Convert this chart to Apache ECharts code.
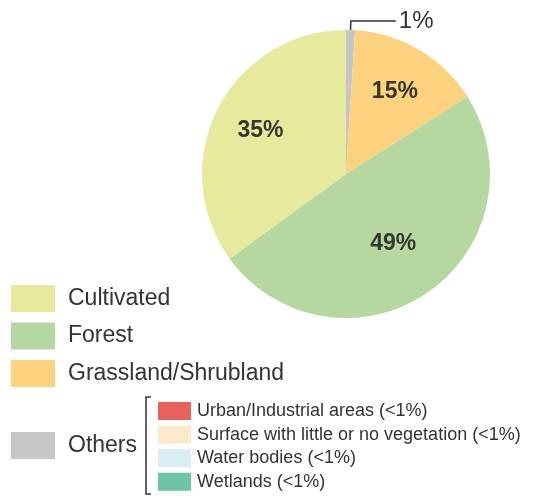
<!DOCTYPE html>
<html>
<head>
<meta charset="utf-8">
<script src="https://cdn.jsdelivr.net/npm/echarts@6/dist/echarts.min.js"></script>
<style>
html,body{margin:0;padding:0;background:#fff;}
#chart{width:540px;height:496px;}
</style>
</head>
<body>
<div id="chart"></div>
<script>
// ---- data ----
var categories = ['Others', 'Grassland/Shrubland', 'Forest', 'Cultivated'];
var values = [1, 15, 49, 35];
var colors = ['#c6c6c6', '#fdd27e', '#b4d89f', '#e7e99d'];
var legendMain = ['Cultivated', 'Forest', 'Grassland/Shrubland'];
var legendOthers = ['Others'];
var otherNames = ['Urban/Industrial areas (<1%)', 'Surface with little or no vegetation (<1%)', 'Water bodies (<1%)', 'Wetlands (<1%)'];
var otherColors = ['#e8625c', '#fde9c9', '#d9edf5', '#6ec5a6'];

var FONT = '"Liberation Sans", Arial, sans-serif';
var chart = echarts.init(document.getElementById('chart'), null, {renderer: 'canvas'});

var pieData = categories.map(function (c, i) {
  var item = {name: c, value: values[i], itemStyle: {color: colors[i]}};
  if (i === 0) {
    item.label = {show: true};
    item.labelLine = {show: true};
  }
  return item;
});
function labelData(showNames) {
  return categories.map(function (c, i) {
    return {name: c, value: values[i], label: {show: showNames.indexOf(c) >= 0}};
  });
}

// Sub-legend (graphic)
var graphics = [{
  type: 'polyline',
  shape: {points: [[151, 397], [146, 397], [146, 494], [151, 494]]},
  style: {stroke: '#333', lineWidth: 1.5, fill: null}
}];
otherNames.forEach(function (n, i) {
  var y = 402 + i * 23.6;
  graphics.push({type: 'rect', shape: {x: 158, y: y, width: 33, height: 18}, style: {fill: otherColors[i]}});
  graphics.push({type: 'text', x: 197, y: y + 9, style: {text: n, font: '18px ' + FONT, fill: '#333', textVerticalAlign: 'middle'}});
});

var labelStyle = {
  position: 'inside',
  formatter: '{c}%',
  fontSize: 23, fontWeight: 'bold', fontFamily: FONT, color: '#35362c'
};

chart.setOption({
  animation: false,
  legend: [{
    data: legendMain,
    orient: 'vertical',
    left: 11, top: 285,
    padding: 0,
    itemWidth: 44, itemHeight: 27, itemGap: 10.5,
    icon: 'rect',
    selectedMode: false,
    textStyle: {fontSize: 23, fontFamily: FONT, color: '#333', padding: [0, 0, 0, 8]}
  }, {
    data: legendOthers,
    orient: 'vertical',
    left: 11, top: 432,
    padding: 0,
    itemWidth: 44, itemHeight: 27,
    icon: 'rect',
    selectedMode: false,
    textStyle: {fontSize: 23, fontFamily: FONT, color: '#333', padding: [0, 0, 0, 8]}
  }],
  graphic: graphics,
  series: [{
    type: 'pie',
    center: [346, 174],
    radius: [0, 144],
    startAngle: 90,
    clockwise: true,
    silent: true,
    avoidLabelOverlap: false,
    data: pieData,
    label: {
      show: false,
      position: 'outside',
      formatter: '{c}%',
      fontSize: 24, fontFamily: FONT, color: '#333',
      distanceToLabelLine: 3
    },
    labelLine: {show: false, length: 9, length2: 45, lineStyle: {color: '#333', width: 1.5}}
  }, {
    type: 'pie',
    center: [346, 174],
    radius: [0, 186],
    startAngle: 90,
    clockwise: true,
    silent: true,
    avoidLabelOverlap: false,
    itemStyle: {color: 'rgba(0,0,0,0)'},
    data: labelData(['Cultivated', 'Grassland/Shrubland']),
    label: labelStyle,
    labelLine: {show: false}
  }, {
    type: 'pie',
    center: [346, 174],
    radius: [0, 162],
    startAngle: 90,
    clockwise: true,
    silent: true,
    avoidLabelOverlap: false,
    itemStyle: {color: 'rgba(0,0,0,0)'},
    data: labelData(['Forest']),
    label: labelStyle,
    labelLine: {show: false}
  }]
});
</script>
</body>
</html>
